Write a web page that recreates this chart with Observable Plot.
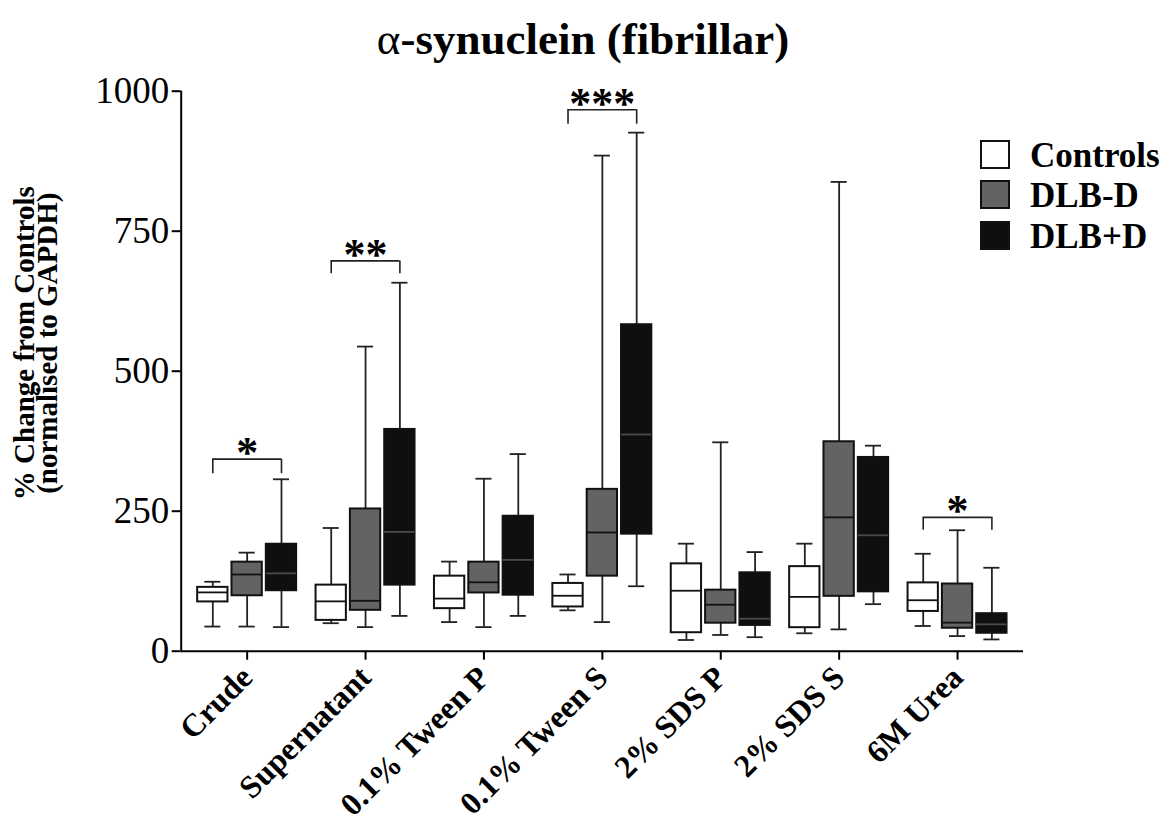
<!DOCTYPE html>
<html>
<head>
<meta charset="utf-8">
<script src="https://cdn.jsdelivr.net/npm/d3@7"></script>
<script src="https://cdn.jsdelivr.net/npm/@observablehq/plot@0.6"></script>
<style>
  body { margin: 0; background: #fff; }
  #wrap { position: relative; width: 1166px; height: 827px; font-family: "Liberation Serif", "Times New Roman", serif; color: #000; }
  #title { position: absolute; left: 0; top: 14px; width: 1166px; text-align: center; font-weight: bold; font-size: 45px; line-height: 50px; }
  #title .a { font-weight: normal; }
  #chart { position: absolute; left: 0; top: 0; }
  .sw { position: absolute; left: 980px; width: 30px; height: 29px; box-sizing: border-box; border: 2px solid #111; }
  .lt { position: absolute; left: 1030px; font-weight: bold; font-size: 35px; line-height: 29px; white-space: nowrap; }
  g[aria-label^="x-axis"] text { font-weight: bold; font-size: 32px; }
  g[aria-label^="y-axis"] text { font-size: 37px; }
  g[aria-label^="y-axis"] path, g[aria-label^="y-axis"] line,
  g[aria-label^="x-axis"] path, g[aria-label^="x-axis"] line { stroke-width: 2px; stroke: #000; }
</style>
</head>
<body>
<div id="wrap">
  <div id="chart"></div>
  <div id="title"><span class="a">α</span>-synuclein (fibrillar)</div>
  <div id="legend"></div>
</div>
<script>
// ---------- data ----------
const categories = ["Crude", "Supernatant", "0.1% Tween P", "0.1% Tween S", "2% SDS P", "2% SDS S", "6M Urea"];
const groups = ["Controls", "DLB-D", "DLB+D"];
const yTicks = [0, 250, 500, 750, 1000];

const controlsMin = [44, 50, 52, 73, 20, 32, 45];
const controlsQ1  = [88, 55, 76, 79, 33, 42, 71];
const controlsMed = [105, 89, 94, 99, 108, 97, 91];
const controlsQ3  = [114, 118, 134, 121, 156, 151, 122];
const controlsMax = [124, 220, 160, 137, 192, 192, 174];

const dlbNoDMin = [44, 43, 43, 52, 29, 39, 27];
const dlbNoDQ1  = [99, 73, 104, 134, 50, 98, 41];
const dlbNoDMed = [137, 90, 123, 212, 83, 239, 51];
const dlbNoDQ3  = [159, 254, 159, 289, 109, 374, 120];
const dlbNoDMax = [176, 544, 308, 885, 373, 838, 216];

const dlbDMin = [43, 63, 63, 116, 25, 84, 21];
const dlbDQ1  = [108, 118, 100, 209, 46, 106, 32];
const dlbDMed = [139, 213, 163, 387, 58, 207, 48];
const dlbDQ3  = [191, 396, 241, 583, 140, 346, 67];
const dlbDMax = [307, 658, 352, 926, 177, 367, 149];

const sigCategories = ["Crude", "Supernatant", "0.1% Tween S", "6M Urea"];
const sigLabels     = ["*", "**", "***", "*"];
const sigTop        = [343, 697, 967, 239];
const sigEnd        = [317, 674, 941, 216];

// ---------- layout / style config ----------
const offset = {"Controls": -0.29, "DLB-D": 0, "DLB+D": 0.29};
const boxHalf = 0.128, capHalf = 0.068;
const fillColors = ["#ffffff", "#636363", "#0f0f0f"];
const medianColors = {"Controls": "#111111", "DLB-D": "#111111", "DLB+D": "#4a4a4a"};

const stats = {
  "Controls": [controlsMin, controlsQ1, controlsMed, controlsQ3, controlsMax],
  "DLB-D": [dlbNoDMin, dlbNoDQ1, dlbNoDMed, dlbNoDQ3, dlbNoDMax],
  "DLB+D": [dlbDMin, dlbDQ1, dlbDMed, dlbDQ3, dlbDMax]
};
const rows = [];
groups.forEach(g => {
  const [mn, q1, md, q3, mx] = stats[g];
  categories.forEach((c, i) => {
    rows.push({cat: c, group: g, pos: i + offset[g], min: mn[i], q1: q1[i], med: md[i], q3: q3[i], max: mx[i]});
  });
});
const sig = sigCategories.map((c, k) => ({i: categories.indexOf(c), label: sigLabels[k], top: sigTop[k], end: sigEnd[k]}));
const sigEnds = sig.flatMap(s => [{x: s.i + offset["Controls"], top: s.top, end: s.end}, {x: s.i + offset["DLB+D"], top: s.top, end: s.end}]);

const xDomain = [-0.557, categories.length - 1 + 0.557];

const chart = Plot.plot({
  width: 1166,
  height: 827,
  marginTop: 90.7,
  marginBottom: 176.3,
  marginLeft: 180.7,
  marginRight: 143,
  style: {fontFamily: "Liberation Serif, Times New Roman, serif", fontSize: "33px", color: "#000", background: "transparent"},
  x: {domain: xDomain, ticks: d3.range(categories.length), tickFormat: i => categories[i], tickRotate: -45, tickSize: 9, tickPadding: 12, label: null},
  y: {domain: [0, 1000], ticks: yTicks, tickFormat: d3.format("d"), tickSize: 9, tickPadding: 3, label: null},
  color: {domain: groups, range: fillColors},
  marks: [
    // whiskers
    Plot.ruleX(rows, {x: "pos", y1: "q3", y2: "max", stroke: "#222", strokeWidth: 1.8}),
    Plot.ruleX(rows, {x: "pos", y1: "min", y2: "q1", stroke: "#222", strokeWidth: 1.8}),
    Plot.ruleY(rows, {y: "max", x1: d => d.pos - capHalf, x2: d => d.pos + capHalf, stroke: "#222", strokeWidth: 1.8}),
    Plot.ruleY(rows, {y: "min", x1: d => d.pos - capHalf, x2: d => d.pos + capHalf, stroke: "#222", strokeWidth: 1.8}),
    // boxes
    Plot.rect(rows, {x1: d => d.pos - boxHalf, x2: d => d.pos + boxHalf, y1: "q1", y2: "q3", fill: "group", stroke: "#111", strokeWidth: 2}),
    // medians
    ...groups.map(g => Plot.ruleY(rows.filter(r => r.group === g), {y: "med", x1: d => d.pos - boxHalf, x2: d => d.pos + boxHalf, stroke: medianColors[g], strokeWidth: 1.8})),
    // axis lines
    Plot.ruleY([0], {stroke: "#000", strokeWidth: 2}),
    Plot.ruleX([xDomain[0]], {stroke: "#000", strokeWidth: 2}),
    // significance brackets
    Plot.ruleY(sig, {y: "top", x1: d => d.i + offset["Controls"], x2: d => d.i + offset["DLB+D"], stroke: "#222", strokeWidth: 1.6}),
    Plot.ruleX(sigEnds, {x: "x", y1: "end", y2: "top", stroke: "#222", strokeWidth: 1.6}),
    Plot.text(sig, {x: "i", y: "top", text: "label", lineAnchor: "bottom", dy: 8, fontSize: 44, fontWeight: "bold", fontFamily: "Liberation Serif, serif", fill: "#000"}),
    // y axis title
    Plot.text(["% Change from Controls\n(normalised to GAPDH)"], {frameAnchor: "left", textAnchor: "middle", rotate: -90, dx: -143, dy: -28, lineHeight: 0.8, fontSize: 29, fontWeight: "bold", fill: "#000"})
  ]
});
document.getElementById("chart").appendChild(chart);

// legend
const legend = document.getElementById("legend");
groups.forEach((g, k) => {
  const top = 140 + k * 40.3;
  const sw = document.createElement("div");
  sw.className = "sw";
  sw.style.top = top + "px";
  sw.style.background = fillColors[k];
  legend.appendChild(sw);
  const t = document.createElement("div");
  t.className = "lt";
  t.style.top = (top + 1) + "px";
  t.textContent = g;
  legend.appendChild(t);
});
</script>
</body>
</html>
